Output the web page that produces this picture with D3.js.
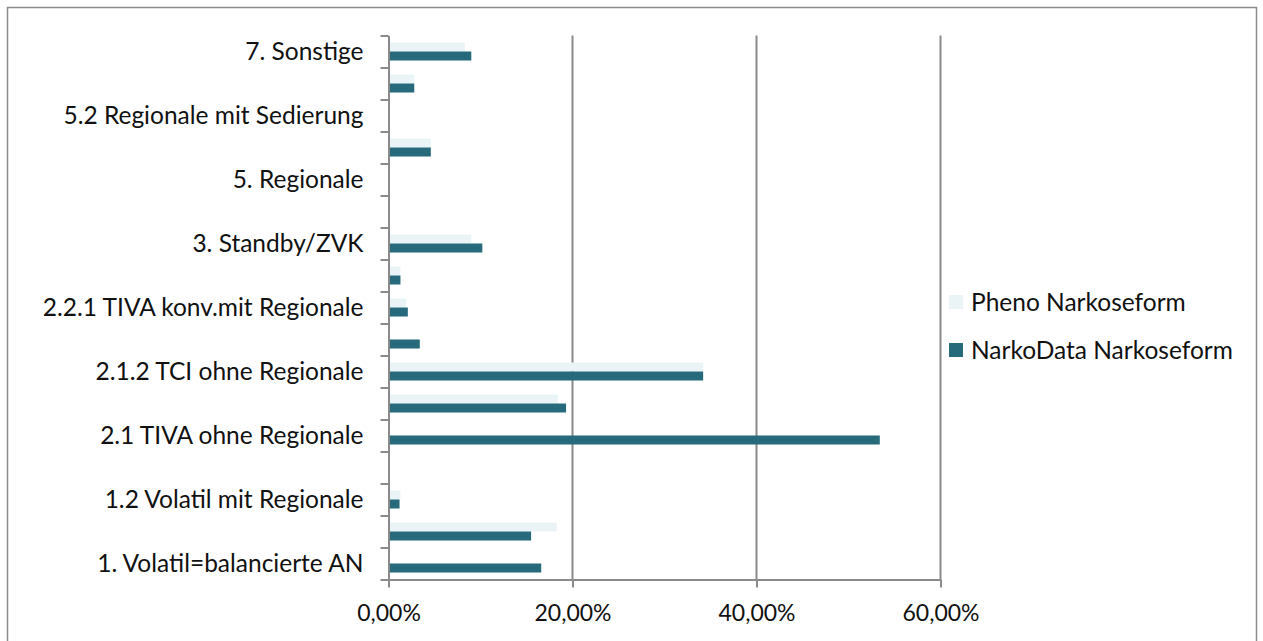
<!DOCTYPE html>
<html>
<head>
<meta charset="utf-8">
<script src="https://cdn.jsdelivr.net/npm/d3@7"></script>
<style>
  html, body { margin: 0; padding: 0; background: #ffffff; }
  svg { display: block; }
  text { font-family: Lato, "Open Sans", sans-serif; fill: #111; }
</style>
</head>
<body>
<svg id="chart" width="1263" height="641"></svg>
<script>
// Anesthesia form categories, bottom to top
const categories = [
  "1. Volatil=balancierte AN",
  "1.1 Volatil ohne Regionale",
  "1.2 Volatil mit Regionale",
  "2. TIVA",
  "2.1 TIVA ohne Regionale",
  "2.1.1 TIVA konv.ohne Regionale",
  "2.1.2 TCI ohne Regionale",
  "2.2 TIVA mit Regionale",
  "2.2.1 TIVA konv.mit Regionale",
  "2.2.2 TCI mit Regionale",
  "3. Standby/ZVK",
  "4. Maskennarkose",
  "5. Regionale",
  "5.1 Regionale ohne Sedierung",
  "5.2 Regionale mit Sedierung",
  "6. Lokalanästhesie",
  "7. Sonstige"
];

// Shares per category (fractions)
const phenoValues = [
  0.000, 0.183, 0.013, 0.000, 0.000, 0.184, 0.342, 0.000, 0.019,
  0.013, 0.090, 0.000, 0.000, 0.046, 0.000, 0.028, 0.083
];
const narkoDataValues = [
  0.166, 0.155, 0.012, 0.000, 0.534, 0.193, 0.342, 0.034, 0.021,
  0.013, 0.102, 0.000, 0.000, 0.046, 0.000, 0.028, 0.090
];

const seriesNames = ["Pheno Narkoseform", "NarkoData Narkoseform"];
const seriesValues = [phenoValues, narkoDataValues];
const seriesColors = ["#eaf4f7", "#276a7b"];

const xTicks = [0, 0.2, 0.4, 0.6];

const svg = d3.select("#chart");

// outer frame
svg.append("rect")
  .attr("x", 7.5).attr("y", 7.5)
  .attr("width", 1249).attr("height", 660)
  .attr("fill", "none").attr("stroke", "#8c8c8c").attr("stroke-width", 1.5);

const plot = { left: 388.5, right: 940.5, top: 35.5, bottom: 579.5 };

const x = d3.scaleLinear().domain([0, 0.6]).range([plot.left, plot.right]);
const y = d3.scaleBand().domain(categories).range([plot.bottom, plot.top]);
const groupH = 18;
const ySeries = d3.scaleBand().domain(seriesNames).range([0, groupH]);

const de = d3.formatLocale({ decimal: ",", thousands: ".", grouping: [3], currency: ["", " €"] });
const pct = de.format(".2%");

// vertical gridlines
svg.append("g")
  .selectAll("line")
  .data(xTicks.slice(1))
  .join("line")
  .attr("x1", d => x(d)).attr("x2", d => x(d))
  .attr("y1", plot.top).attr("y2", plot.bottom)
  .attr("stroke", "#8a8a8a").attr("stroke-width", 2);

// bars
const groups = svg.append("g")
  .selectAll("g")
  .data(categories)
  .join("g")
  .attr("transform", c => `translate(0,${y(c) + (y.bandwidth() - groupH) / 2})`);

seriesNames.forEach((name, si) => {
  groups.append("rect")
    .attr("x", x(0))
    .attr("y", ySeries(name))
    .attr("height", ySeries.bandwidth())
    .attr("width", (c, i) => x(seriesValues[si][i]) - x(0))
    .attr("fill", seriesColors[si]);
});

// x axis
const xAxis = svg.append("g")
  .attr("transform", `translate(0,${plot.bottom})`)
  .call(d3.axisBottom(x).tickValues(xTicks).tickFormat(pct).tickSize(8).tickSizeOuter(0));
xAxis.select(".domain").attr("stroke", "#8a8a8a").attr("stroke-width", 2);
xAxis.selectAll(".tick line").attr("stroke", "#8a8a8a").attr("stroke-width", 2);
xAxis.selectAll(".tick text")
  .attr("dy", null).attr("y", 41)
  .style("font-size", "23px").style("font-family", "Lato, sans-serif").attr("fill", "#111");

// y axis: boundary ticks between categories
const yEdges = d3.scaleLinear().domain([0, categories.length]).range([plot.bottom, plot.top]);
const yAxis = svg.append("g")
  .attr("transform", `translate(${plot.left},0)`)
  .call(d3.axisLeft(yEdges).tickValues(d3.range(0, categories.length + 1)).tickFormat("").tickSize(8).tickSizeOuter(0));
yAxis.select(".domain").attr("stroke", "#8a8a8a").attr("stroke-width", 2);
yAxis.selectAll(".tick line").attr("stroke", "#8a8a8a").attr("stroke-width", 2);

// category labels (every other one)
svg.append("g")
  .selectAll("text")
  .data(categories.filter((c, i) => i % 2 === 0))
  .join("text")
  .attr("x", plot.left - 25)
  .attr("y", c => y(c) + y.bandwidth() / 2)
  .attr("dy", "0.35em")
  .attr("text-anchor", "end")
  .style("font-size", "24.5px")
  .text(c => c);

// legend
const legend = svg.append("g")
  .selectAll("g")
  .data(seriesNames)
  .join("g")
  .attr("transform", (d, i) => `translate(949,${302 + i * 48})`);
legend.append("rect")
  .attr("x", 0).attr("y", -7).attr("width", 14).attr("height", 14)
  .attr("fill", (d, i) => seriesColors[i]);
legend.append("text")
  .attr("x", 22).attr("y", 0).attr("dy", "0.35em")
  .style("font-size", "24.5px")
  .text(d => d);
</script>
</body>
</html>
